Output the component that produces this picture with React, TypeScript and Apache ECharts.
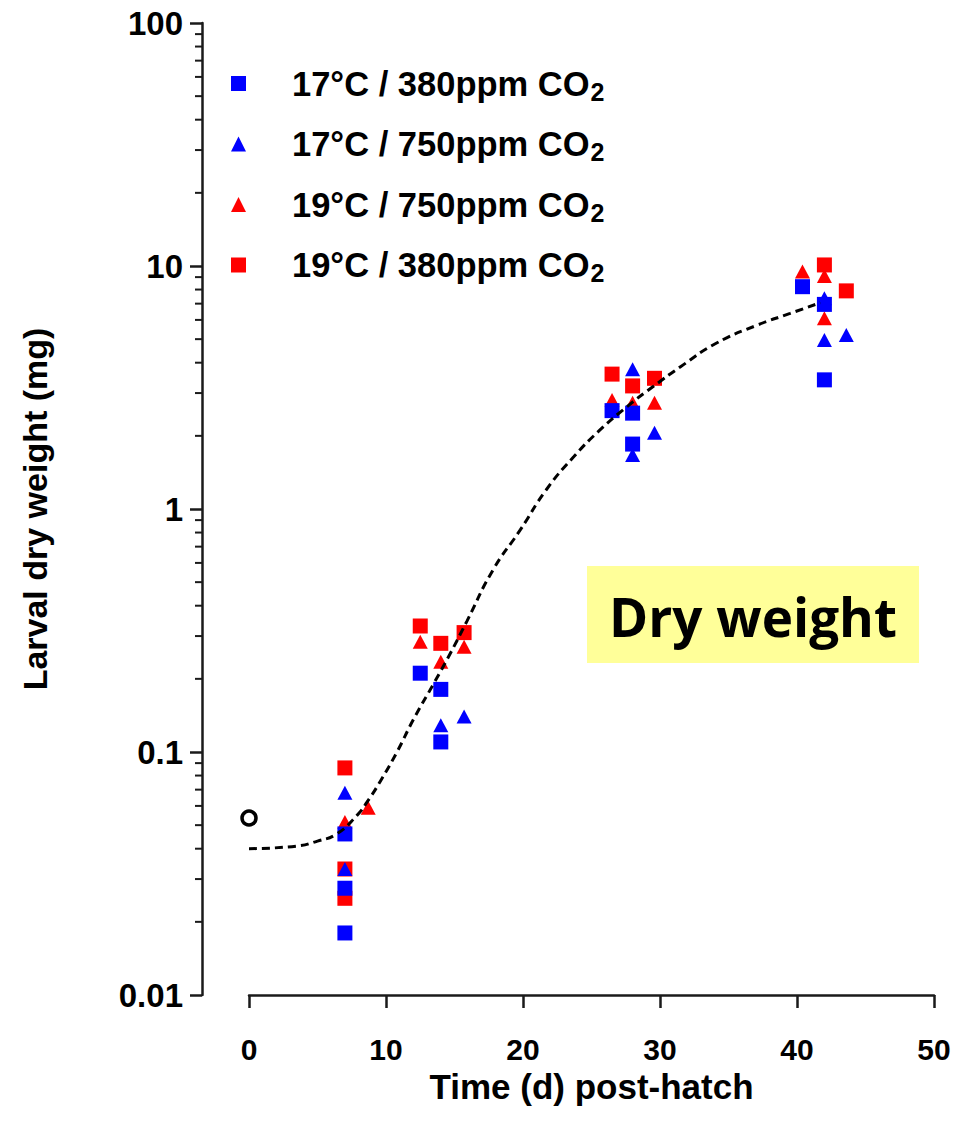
import React, { useEffect, useRef } from "react";
import * as echarts from "echarts";

// Day of sampling (post-hatch) and larval dry weight (mg) per treatment
const BLUE_SQ_X = [7, 7, 7, 12.5, 14, 14, 26.5, 28, 28, 40.4, 42, 42];
const BLUE_SQ_Y = [0.046, 0.0275, 0.018, 0.211, 0.181, 0.11, 2.54, 2.48, 1.85, 8.22, 6.95, 3.4];

const BLUE_TRI_X = [7, 7, 14, 15.7, 28, 28, 29.6, 42, 42, 43.6];
const BLUE_TRI_Y = [0.068, 0.033, 0.129, 0.14, 3.76, 1.67, 2.06, 7.36, 4.96, 5.2];

const RED_TRI_X = [7, 8.7, 12.5, 14, 15.7, 26.5, 28, 29.6, 40.4, 42, 42];
const RED_TRI_Y = [0.0515, 0.059, 0.284, 0.235, 0.271, 2.81, 2.74, 2.74, 9.49, 9.1, 6.1];

const RED_SQ_X = [7, 7, 7, 12.5, 14, 15.7, 26.5, 28, 29.6, 42, 43.6];
const RED_SQ_Y = [0.086, 0.033, 0.025, 0.33, 0.28, 0.31, 3.59, 3.21, 3.45, 10.1, 7.9];

// Hatchling weight at day 0
const HATCH_X = [0];
const HATCH_Y = [0.0535];

// Fitted growth curve
const FIT_X = [0, 3.5, 5, 6.4, 7.9, 8.6, 9.6, 10.8, 12, 13.5, 14.7, 15.9, 17.8, 19.8, 21.7, 23.7, 25.6, 27.6, 29.5, 31.5, 34.1, 37.1, 39.5, 41.7];
const FIT_Y = [0.04, 0.041, 0.043, 0.046, 0.055, 0.062, 0.076, 0.1, 0.136, 0.192, 0.255, 0.345, 0.56, 0.82, 1.2, 1.64, 2.11, 2.64, 3.19, 3.85, 4.81, 5.71, 6.38, 7.06];

const SERIES_NAMES = [
  "17°C / 380ppm CO2",
  "17°C / 750ppm CO2",
  "19°C / 750ppm CO2",
  "19°C / 380ppm CO2",
];

const X_TICKS = [0, 10, 20, 30, 40, 50];
const Y_DECADES = [0.01, 0.1, 1, 10, 100];
const MINOR_STEPS = [2, 3, 4, 5, 6, 7, 8, 9];

const BLUE = "#0000ff";
const RED = "#ff0000";
const AXIS = "#1a1a1a";
const FONT = "'Liberation Sans', Arial, sans-serif";
const Y_AXIS_OFFSET = 47;

const zip = (xs: number[], ys: number[]) => xs.map((x, i) => [x, ys[i]]);

export default function App() {
  const ref = useRef<HTMLDivElement>(null);

  useEffect(() => {
    if (!ref.current) return;
    const chart = echarts.init(ref.current, undefined, { renderer: "svg" });

    const minorTicks: number[][] = [];
    Y_DECADES.slice(0, -1).forEach((d) => {
      MINOR_STEPS.forEach((m) => minorTicks.push([0, d * m]));
    });

    const scatterBase = (name: string, symbol: string, color: string, data: number[][], size: any) => ({
      name,
      type: "scatter",
      symbol,
      symbolSize: size,
      data,
      itemStyle: { color, opacity: 1 },
      emphasis: { disabled: true },
    });

    chart.setOption({
      animation: false,
      backgroundColor: "#ffffff",
      grid: { left: 249, right: 29, top: 23, bottom: 138, containLabel: false },
      legend: {
        orient: "vertical",
        left: 226,
        top: 58,
        itemWidth: 15,
        itemHeight: 15,
        itemGap: 19.5,
        selectedMode: false,
        data: [
          { name: SERIES_NAMES[0], icon: "rect" },
          { name: SERIES_NAMES[1], icon: "triangle" },
          { name: SERIES_NAMES[2], icon: "triangle" },
          { name: SERIES_NAMES[3], icon: "rect" },
        ],
        formatter: (name: string) => `{a|${name.slice(0, -1)}}{s|2}`,
        textStyle: {
          lineHeight: 36,
          rich: {
            a: {
              fontFamily: FONT,
              fontWeight: "bold",
              fontSize: 34.5,
              color: "#000",
              padding: [0, 0, 0, 41],
              lineHeight: 36,
            },
            s: {
              fontFamily: FONT,
              fontWeight: "bold",
              fontSize: 25,
              color: "#000",
              padding: [16, 0, 0, 1],
              lineHeight: 36,
            },
          },
        },
      },
      xAxis: {
        type: "value",
        min: X_TICKS[0],
        max: X_TICKS[X_TICKS.length - 1],
        interval: 10,
        name: "Time (d) post-hatch",
        nameLocation: "middle",
        nameGap: 73,
        nameTextStyle: {
          fontFamily: FONT,
          fontWeight: "bold",
          fontSize: 35,
          color: "#000",
          lineHeight: 35,
        },
        axisLine: { show: true, onZero: false, lineStyle: { color: AXIS, width: 2.5 } },
        axisTick: { show: true, inside: false, length: 13, lineStyle: { color: AXIS, width: 2.5 } },
        axisLabel: {
          margin: 39,
          fontFamily: FONT,
          fontWeight: "bold",
          fontSize: 30,
          color: "#000",
          lineHeight: 30,
        },
        splitLine: { show: false },
      },
      yAxis: {
        type: "log",
        logBase: 10,
        min: Y_DECADES[0],
        max: Y_DECADES[Y_DECADES.length - 1],
        offset: Y_AXIS_OFFSET,
        name: "Larval dry weight (mg)",
        nameLocation: "middle",
        nameRotate: 90,
        nameGap: 150,
        nameTextStyle: {
          fontFamily: FONT,
          fontWeight: "bold",
          fontSize: 34,
          color: "#000",
          lineHeight: 34,
        },
        axisLine: { show: true, onZero: false, lineStyle: { color: AXIS, width: 2.5 } },
        axisTick: { show: true, inside: false, length: 12, lineStyle: { color: AXIS, width: 2.5 } },
        axisLabel: {
          margin: 19,
          fontFamily: FONT,
          fontWeight: "bold",
          fontSize: 33,
          color: "#000",
          formatter: (v: number) => String(Number(v.toPrecision(1))),
        },
        splitLine: { show: false },
      },
      graphic: [
        {
          type: "group",
          children: [
            {
              type: "rect",
              shape: { x: 587, y: 566, width: 332, height: 97 },
              style: { fill: "#ffff99" },
            },
            {
              type: "text",
              style: {
                text: "Dry weight",
                x: 753,
                y: 616,
                fontFamily: "'Open Sans', 'Noto Sans', sans-serif",
                fontWeight: "bold",
                fontSize: 53,
                fill: "#000",
                textAlign: "center",
                textVerticalAlign: "middle",
              },
            },
          ],
        },
      ],
      series: [
        {
          type: "custom",
          silent: true,
          clip: false,
          data: minorTicks,
          renderItem: (_params: any, api: any) => {
            const p = api.coord([0, api.value(1)]);
            const x0 = p[0] - Y_AXIS_OFFSET;
            return {
              type: "line",
              shape: { x1: x0 - 7, y1: p[1], x2: x0, y2: p[1] },
              style: { stroke: AXIS, lineWidth: 2 },
            };
          },
        },
        scatterBase(SERIES_NAMES[3], "rect", RED, zip(RED_SQ_X, RED_SQ_Y), 15),
        scatterBase(SERIES_NAMES[2], "triangle", RED, zip(RED_TRI_X, RED_TRI_Y), [15, 14]),
        scatterBase(SERIES_NAMES[1], "triangle", BLUE, zip(BLUE_TRI_X, BLUE_TRI_Y), [15, 14]),
        scatterBase(SERIES_NAMES[0], "rect", BLUE, zip(BLUE_SQ_X, BLUE_SQ_Y), 15),
        {
          name: "day 0",
          type: "scatter",
          symbol: "circle",
          symbolSize: 14,
          data: zip(HATCH_X, HATCH_Y),
          itemStyle: { color: "#ffffff", borderColor: "#000000", borderWidth: 3.5, opacity: 1 },
          emphasis: { disabled: true },
          z: 5,
        },
        {
          name: "fit",
          type: "line",
          smooth: 0.5,
          showSymbol: false,
          symbol: "none",
          data: zip(FIT_X, FIT_Y),
          lineStyle: { color: "#000", width: 3, type: [8, 5] },
          emphasis: { disabled: true },
          z: 6,
        },
      ],
    });

    return () => chart.dispose();
  }, []);

  return (
    <div
      ref={ref}
      style={{ position: "fixed", left: 0, top: 0, width: 963, height: 1133, background: "#fff" }}
    />
  );
}
